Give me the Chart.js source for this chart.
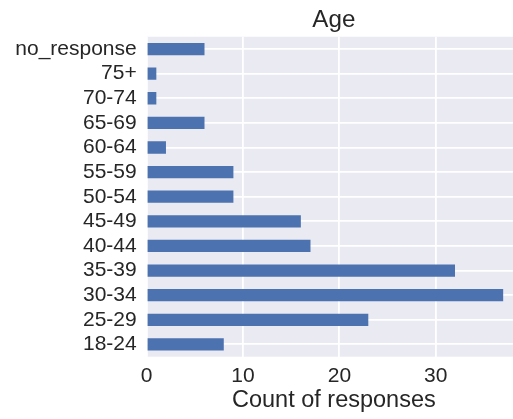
<!DOCTYPE html>
<html>
<head>
<meta charset="utf-8">
<script src="https://cdn.jsdelivr.net/npm/chart.js@4"></script>
<style>
html,body{margin:0;padding:0;overflow:hidden;background:#fff;}
#wrap{width:521px;height:419px;position:relative;}
</style>
</head>
<body>
<div id="wrap"><canvas id="c"></canvas></div>
<script>
// Data (bottom-to-top order as in the source plot)
const categories = ["18-24","25-29","30-34","35-39","40-44","45-49","50-54","55-59","60-64","65-69","70-74","75+","no_response"];
const counts = [8, 23, 37, 32, 17, 16, 9, 9, 2, 6, 1, 1, 6];
const xTicks = [0, 10, 20, 30];
const chartTitle = "Age";
const xLabel = "Count of responses";

const FONT = "'Liberation Sans', Arial, sans-serif";
const TXT = "#262626";

const bgPlugin = {
  id: "plotBg",
  beforeDraw(chart) {
    const a = chart.chartArea, ctx = chart.ctx;
    ctx.save();
    ctx.fillStyle = "#EAEAF2";
    ctx.fillRect(a.left, a.top, a.right - a.left, a.bottom - a.top);
    ctx.restore();
  }
};

new Chart(document.getElementById("c"), {
  type: "bar",
  data: {
    labels: categories,
    datasets: [{
      data: counts,
      backgroundColor: "#4C72B0",
      borderWidth: 0,
      barPercentage: 0.5,
      categoryPercentage: 1.0
    }]
  },
  options: {
    indexAxis: "y",
    responsive: true,
    maintainAspectRatio: false,
    animation: false,
    devicePixelRatio: 1,
    layout: { padding: { left: 0, right: 0, top: 0, bottom: 0 } },
    plugins: {
      legend: { display: false },
      tooltip: { enabled: false },
      title: {
        display: true,
        text: chartTitle,
        fullSize: false,
        color: TXT,
        font: { family: FONT, size: 24.2, weight: "normal" },
        padding: { top: 5.5, bottom: 2.2 }
      }
    },
    scales: {
      x: {
        type: "linear",
        min: 0,
        max: 38.85,
        afterBuildTicks(scale) { scale.ticks = xTicks.map(v => ({ value: v })); },
        ticks: {
          color: TXT,
          font: { family: FONT, size: 21 },
          padding: 7,
          maxRotation: 0
        },
        grid: { color: "#ffffff", lineWidth: 1.8, drawTicks: false },
        border: { display: false },
        title: {
          display: true,
          text: xLabel,
          color: TXT,
          font: { family: FONT, size: 23.5 },
          padding: { top: 2, bottom: 4 }
        },
        afterFit(scale) { scale.height = 62.3; }
      },
      y: {
        type: "category",
        reverse: true,
        offset: true,
        ticks: {
          color: TXT,
          font: { family: FONT, size: 21 },
          padding: 10,
          autoSkip: false
        },
        grid: { color: "#ffffff", lineWidth: 1.8, drawTicks: false, offset: false },
        border: { display: false },
        afterFit(scale) { scale.width = 146.7; }
      }
    }
  },
  plugins: [bgPlugin]
});
</script>
</body>
</html>
